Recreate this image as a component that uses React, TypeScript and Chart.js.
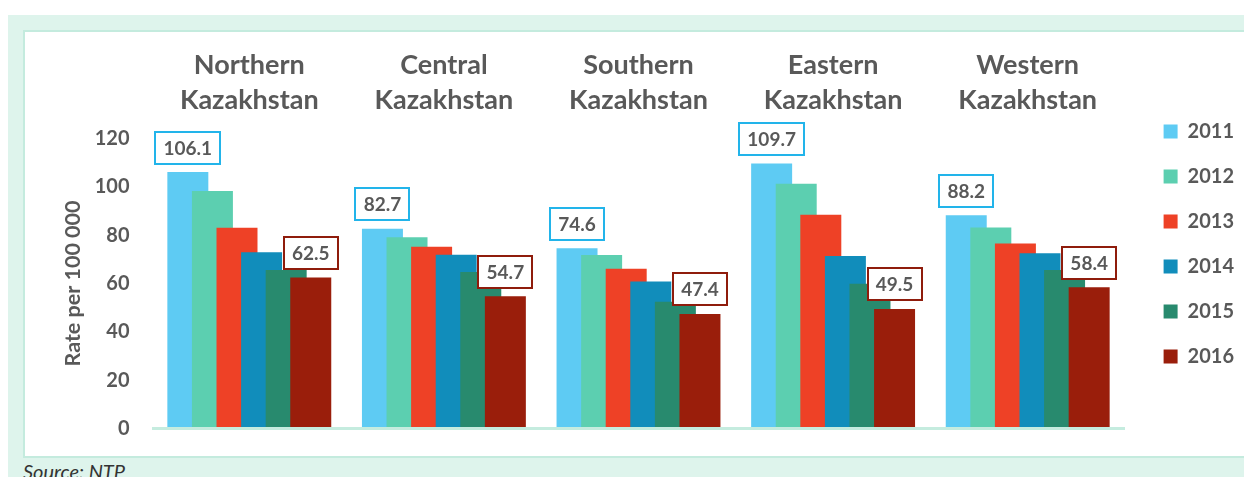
import React, { useEffect, useRef } from 'react';
import { Chart, registerables } from 'chart.js';

Chart.register(...registerables);

// ---- data ----
const regions: string[][] = [
  ['Northern', 'Kazakhstan'],
  ['Central', 'Kazakhstan'],
  ['Southern', 'Kazakhstan'],
  ['Eastern', 'Kazakhstan'],
  ['Western', 'Kazakhstan'],
];
const years = ['2011', '2012', '2013', '2014', '2015', '2016'];
const rate2011 = [106.1, 82.7, 74.6, 109.7, 88.2];
const rate2012 = [98.3, 79.1, 71.8, 101.3, 83.2];
const rate2013 = [83.1, 75.2, 66.1, 88.5, 76.6];
const rate2014 = [72.9, 71.9, 60.8, 71.4, 72.5];
const rate2015 = [65.6, 64.8, 52.5, 59.9, 65.6];
const rate2016 = [62.5, 54.7, 47.4, 49.5, 58.4];
const yMin = 0;
const yMax = 120;
const yStep = 20;
const yTitle = 'Rate per 100 000';
const sourceNote = 'Source: NTP';

// ---- styles ----
const seriesColors = ['#5ecbf3', '#5ccfb0', '#ee4126', '#118dbb', '#288a6e', '#9a1e0b'];
const labelledSeries = [
  { index: 0, border: '#22b4ea' },
  { index: 5, border: '#8f1c0c' },
];
const textGrey = '#595959';
const FONT = 'Lato, "Open Sans", sans-serif';

const leftToRightPlugin = {
  id: 'leftToRight',
  beforeDatasetsDraw(chart: any) {
    chart.getSortedVisibleDatasetMetas().forEach((m: any) => m.controller.draw());
    return false;
  },
};

const valueBoxPlugin = {
  id: 'valueBoxes',
  afterDraw(chart: any) {
    const ctx = chart.ctx as CanvasRenderingContext2D;
    labelledSeries.forEach(({ index, border }) => {
      const meta = chart.getDatasetMeta(index);
      const values = chart.data.datasets[index].data as number[];
      meta.data.forEach((bar: any, i: number) => {
        const text = values[i].toFixed(1);
        ctx.save();
        ctx.font = `bold 19px ${FONT}`;
        const tw = ctx.measureText(text).width;
        const w = Math.round(tw + 18);
        const h = 34;
        const x = Math.round(bar.x - w / 2);
        const y = Math.round(bar.y - 7.5 - h);
        ctx.fillStyle = '#ffffff';
        ctx.fillRect(x, y, w, h);
        ctx.lineWidth = 2;
        ctx.strokeStyle = border;
        ctx.strokeRect(x + 1, y + 1, w - 2, h - 2);
        ctx.fillStyle = textGrey;
        ctx.textAlign = 'center';
        ctx.textBaseline = 'middle';
        ctx.fillText(text, bar.x, y + h / 2 + 1);
        ctx.restore();
      });
    });
  },
};

export default function App() {
  const ref = useRef<HTMLCanvasElement | null>(null);

  useEffect(() => {
    if (!ref.current) return;
    const series = [rate2011, rate2012, rate2013, rate2014, rate2015, rate2016];
    const chart = new Chart(ref.current, {
      type: 'bar',
      data: {
        labels: regions,
        datasets: series.map((d, i) => ({
          label: years[i],
          data: d,
          backgroundColor: seriesColors[i],
          borderWidth: 0,
          categoryPercentage: 0.758,
          barPercentage: 1.667,
          xAxisID: 'x',
          yAxisID: 'y',
        })),
      },
      options: {
        animation: false,
        responsive: false,
        maintainAspectRatio: false,
        layout: { padding: 0 },
        plugins: {
          legend: {
            position: 'right',
            align: 'center',
            labels: {
              boxWidth: 14,
              boxHeight: 14,
              padding: 25,
              color: textGrey,
              font: { family: FONT, weight: 'bold', size: 20 },
            },
          },
          tooltip: { enabled: false },
        },
        scales: {
          x: {
            position: 'top',
            grid: { display: false, drawTicks: false },
            border: { display: false },
            ticks: {
              color: textGrey,
              padding: 21,
              maxRotation: 0,
              autoSkip: false,
              font: { family: FONT, weight: 'bold', size: 27, lineHeight: 35 / 27 },
            },
            afterFit: (s: any) => {
              s.height = 106.5;
            },
          },
          y: {
            min: yMin,
            max: yMax,
            ticks: {
              stepSize: yStep,
              padding: 0,
              color: textGrey,
              font: { family: FONT, weight: 'bold', size: 20 },
            },
            grid: {
              drawTicks: true,
              tickLength: 22.5,
              tickColor: 'rgba(0,0,0,0)',
              lineWidth: 3,
              color: (c: any) => (c.tick && c.tick.value === 0 ? '#c5ecdf' : 'rgba(0,0,0,0)'),
            },
            border: { display: false },
            title: {
              display: true,
              text: yTitle,
              color: textGrey,
              font: { family: FONT, weight: 'bold', size: 21.5 },
              padding: { top: 35, bottom: 0 },
            },
            afterFit: (s: any) => {
              s.width = 127;
            },
          },
          gapRight: {
            type: 'linear',
            position: 'right',
            display: true,
            grid: { display: false, drawTicks: false },
            border: { display: false },
            ticks: { display: false },
            afterFit: (s: any) => {
              const lw = s.chart.legend ? s.chart.legend.width : 0;
              s.width = Math.max(0, s.chart.width - 1100 - lw);
            },
          },
          gapBottom: {
            type: 'linear',
            position: 'bottom',
            display: true,
            grid: { display: false, drawTicks: false },
            border: { display: false },
            ticks: { display: false },
            afterFit: (s: any) => {
              s.height = 27.5;
            },
          },
        },
      } as any,
      plugins: [leftToRightPlugin as any, valueBoxPlugin as any],
    });
    return () => chart.destroy();
  }, []);

  return (
    <div
      style={{
        position: 'fixed',
        left: 0,
        top: 0,
        width: 1244,
        height: 477,
        overflow: 'hidden',
        background: '#ffffff',
      }}
    >
      <div
        style={{
          position: 'absolute',
          left: 8,
          top: 15,
          width: 1236,
          height: 462,
          background: '#def4ec',
        }}
      >
        <div
          style={{
            position: 'absolute',
            left: 15,
            top: 15,
            width: 1221,
            height: 428,
            boxSizing: 'border-box',
            background: '#ffffff',
            borderTop: '2px solid #c4ebde',
            borderLeft: '2px solid #c4ebde',
            borderBottom: '2px solid #c4ebde',
          }}
        >
          <canvas
            ref={ref}
            width={1219}
            height={424}
            style={{ display: 'block', width: 1219, height: 424 }}
          />
        </div>
        <div
          style={{
            position: 'absolute',
            left: 15,
            top: 444,
            fontFamily: FONT,
            fontStyle: 'italic',
            fontSize: 20,
            color: '#333333',
            whiteSpace: 'nowrap',
          }}
        >
          {sourceNote}
        </div>
      </div>
    </div>
  );
}
